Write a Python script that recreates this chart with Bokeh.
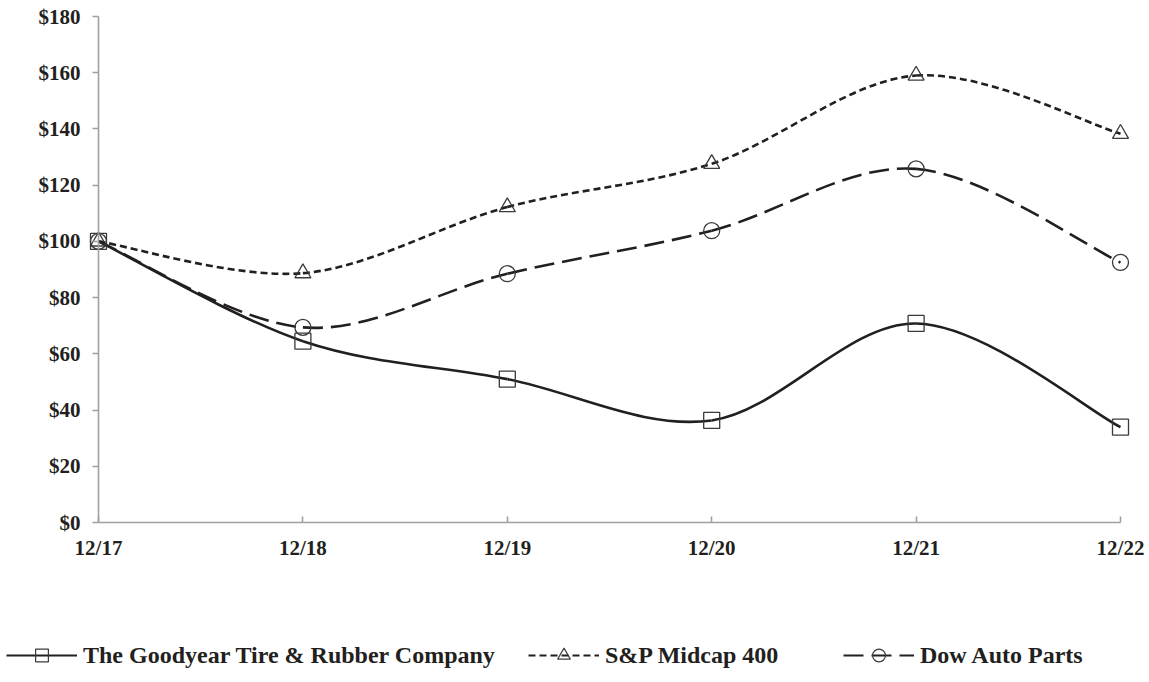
from bokeh.plotting import figure
from bokeh.layouts import column
from bokeh.models import Range1d, FixedTicker, Legend, LegendItem
from bokeh.embed import file_html
from bokeh.resources import INLINE

periods = ["12/17", "12/18", "12/19", "12/20", "12/21", "12/22"]
goodyear = [100.0, 64.5, 51.0, 36.3, 70.8, 33.9]
sp400 = [100.0, 88.7, 112.2, 127.6, 159.0, 138.3]
dow = [100.0, 69.4, 88.5, 103.8, 125.8, 92.5]
series_names = ["The Goodyear Tire & Rubber Company", "S&P Midcap 400", "Dow Auto Parts"]
y_ticks = [0, 20, 40, 60, 80, 100, 120, 140, 160, 180]
y_labels = ["$0", "$20", "$40", "$60", "$80", "$100", "$120", "$140", "$160", "$180"]

FONT = "Liberation Serif"
INK = "#231f20"
AXIS = "#a0a0a0"

xs = list(range(len(periods)))
x_last = xs[-1]

# layout (pixels)
W = 1149
H1, H2 = 584, 90
AX_LEFT, AX_RIGHT, TOP, BOTTOM = 98, 1120, 16, 522
FRAME_BOTTOM = 576          # frame extends below the x axis so its labels fit inside
px_per_x = (AX_RIGHT - AX_LEFT) / x_last
px_per_y = (BOTTOM - TOP) / (y_ticks[-1] - y_ticks[0])
LEGEND_X = [6, 528, 843]   # page x of each legend entry


def smooth_segments(x, y):
    """Cubic Bezier segments through the data points (Excel-style smoothing)."""
    n = len(x)
    out = dict(x0=[], y0=[], x1=[], y1=[], cx0=[], cy0=[], cx1=[], cy1=[])
    for i in range(n - 1):
        p0 = max(i - 1, 0)
        p3 = min(i + 2, n - 1)
        out["x0"].append(x[i]); out["y0"].append(y[i])
        out["x1"].append(x[i + 1]); out["y1"].append(y[i + 1])
        out["cx0"].append(x[i] + (x[i + 1] - x[p0]) / 6.0)
        out["cy0"].append(y[i] + (y[i + 1] - y[p0]) / 6.0)
        out["cx1"].append(x[i + 1] - (x[p3] - x[i]) / 6.0)
        out["cy1"].append(y[i + 1] - (y[p3] - y[i]) / 6.0)
    return out


# frame spans the full area; both axes are fixed at the data origin
p = figure(width=W, height=H1, output_backend="svg", toolbar_location=None,
           x_range=Range1d(xs[0] - AX_LEFT / px_per_x, x_last + (W - AX_RIGHT) / px_per_x),
           y_range=Range1d(y_ticks[0] - (FRAME_BOTTOM - BOTTOM) / px_per_y,
                           y_ticks[-1] + TOP / px_per_y),
           min_border_left=0, min_border_right=0,
           min_border_top=0, min_border_bottom=H1 - FRAME_BOTTOM)
p.outline_line_color = None
p.grid.visible = False
p.background_fill_color = "white"

styles = [
    (goodyear, None, "square"),
    (sp400, "7 4", "triangle"),
    (dow, "20 8", "circle"),
]

# legend strip (separate figure below the chart)
p2 = figure(width=W, height=H2, output_backend="svg", toolbar_location=None,
            x_range=Range1d(0, 1), y_range=Range1d(-2, -1),
            x_axis_location=None, y_axis_location=None,
            min_border_left=0, min_border_right=0, min_border_top=0, min_border_bottom=0)
p2.outline_line_color = None
p2.grid.visible = False

for (vals, dash, marker), name, lx in zip(styles, series_names, LEGEND_X):
    seg = smooth_segments(xs, vals)
    kw = dict(line_color=INK, line_width=2.6)
    if dash:
        kw["line_dash"] = dash
    p.bezier(x0=seg["x0"], y0=seg["y0"], x1=seg["x1"], y1=seg["y1"],
             cx0=seg["cx0"], cy0=seg["cy0"], cx1=seg["cx1"], cy1=seg["cy1"], **kw)
    p.scatter(xs, vals, marker=marker, size=16, fill_color=None,
              line_color="#3a3a3a", line_width=1.3)
    # legend proxies (outside the strip's visible range)
    lk = dict(kw)
    lk["line_width"] = 2.2
    r_l = p2.line(xs, vals, **lk)
    r_m = p2.scatter(xs, vals, marker=marker, fill_color=None,
                     line_color="#3a3a3a", line_width=1.2)
    lg = Legend(items=[LegendItem(label=name, renderers=[r_l, r_m])],
                orientation="horizontal", location=(lx, 3),
                glyph_width=71, glyph_height=32, label_standoff=6, spacing=0,
                padding=0, margin=0, border_line_color=None, background_fill_alpha=0,
                label_text_font=FONT, label_text_font_style="bold",
                label_text_font_size="24px", label_text_color=INK)
    p2.add_layout(lg, "center")

# axes
p.xaxis.fixed_location = y_ticks[0]
p.xaxis.bounds = (xs[0], x_last)
p.xaxis.ticker = FixedTicker(ticks=xs)
p.xaxis.major_label_overrides = {i: lab for i, lab in enumerate(periods)}
p.xaxis.major_tick_in = 6
p.xaxis.major_tick_out = 0
p.xaxis.major_label_standoff = 13

p.yaxis.fixed_location = xs[0]
p.yaxis.bounds = (y_ticks[0], y_ticks[-1])
p.yaxis.ticker = FixedTicker(ticks=y_ticks)
p.yaxis.major_label_overrides = {t: lab for t, lab in zip(y_ticks, y_labels)}
p.yaxis.major_tick_in = 0
p.yaxis.major_tick_out = 6
p.yaxis.major_label_standoff = 12

for ax in (p.xaxis, p.yaxis):
    ax.axis_line_color = AXIS
    ax.axis_line_width = 1.6
    ax.major_tick_line_color = AXIS
    ax.major_tick_line_width = 1.6
    ax.minor_tick_line_color = None
    ax.major_label_text_font = FONT
    ax.major_label_text_font_style = "bold"
    ax.major_label_text_font_size = "21px"
    ax.major_label_text_color = INK

layout = column(p, p2, spacing=0)
open("out.html", "w").write(file_html(layout, INLINE))
